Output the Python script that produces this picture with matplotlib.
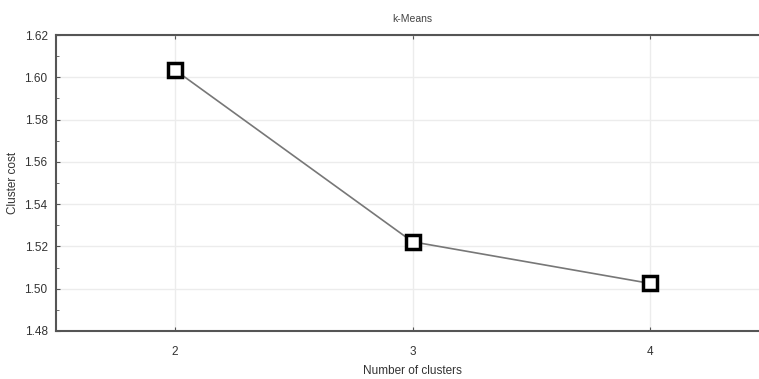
import matplotlib.pyplot as plt
from matplotlib.ticker import MultipleLocator

n_clusters = [2, 3, 4]
cluster_cost = [1.6035, 1.5222, 1.5025]

plt.rcParams['font.family'] = ['Liberation Sans Narrow', 'Liberation Sans', 'DejaVu Sans']

fig = plt.figure(figsize=(7.59, 3.79), dpi=100)
W, H = 759, 379
ax = fig.add_axes([56 / W, (H - 331) / H, (769 - 56) / W, (331 - 35) / H])

ax.plot(n_clusters, cluster_cost, color="#777777", linewidth=1.2,
        marker="s", markersize=10, markerfacecolor="white",
        markeredgecolor="black", markeredgewidth=2.5, zorder=3)

ax.set_xlim(1.5, 4.5)
ax.set_ylim(1.48, 1.62)
ax.set_xticks(n_clusters)
ax.yaxis.set_major_locator(MultipleLocator(0.02))
ax.yaxis.set_minor_locator(MultipleLocator(0.01))
ax.yaxis.set_major_formatter(plt.FormatStrFormatter("%.2f"))

ax.grid(True, color="#ececec", linewidth=1.0)
ax.set_axisbelow(True)

for side in ["top", "bottom", "left"]:
    ax.spines[side].set_color("#555555")
    ax.spines[side].set_linewidth(1.5)
ax.spines["right"].set_visible(False)

ax.tick_params(axis="both", which="major", direction="in", length=3,
               color="#555555", labelsize=8.5, labelcolor="#333333")
ax.tick_params(axis="x", pad=11)
ax.tick_params(axis="y", pad=6)
ax.tick_params(axis="y", which="minor", direction="in", length=2, color="#555555")
ax.tick_params(axis="x", top=True)

ax.set_xlabel("Number of clusters", fontsize=8.5, color="#333333", labelpad=5)
ax.set_ylabel("Cluster cost", fontsize=8.5, color="#333333", labelpad=4)
ax.set_title("k-Means", fontsize=7.5, color="#444444", pad=9)

fig.savefig("out.png", dpi=100)
